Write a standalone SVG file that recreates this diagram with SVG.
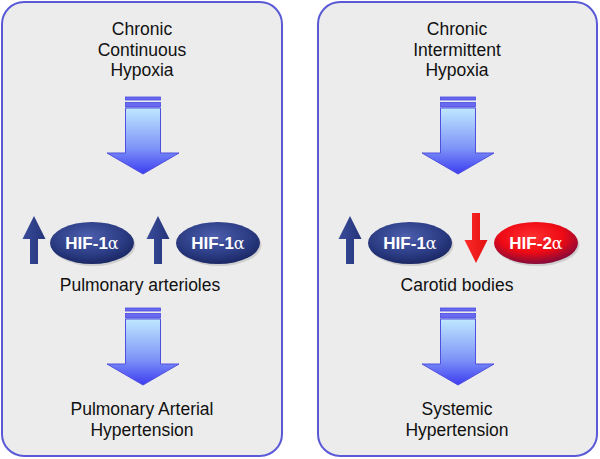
<svg xmlns="http://www.w3.org/2000/svg" width="600" height="459" viewBox="0 0 600 459">
<style>
.panel{fill:#ececec;stroke:#5a5ad8;stroke-width:2}
.t{font-family:"Liberation Sans",Arial,sans-serif;font-size:17.5px;fill:#111;text-anchor:middle}
.h{font-family:"Liberation Sans",Arial,sans-serif;font-size:17px;font-weight:bold;fill:#fff;text-anchor:middle}
.a{font-weight:normal;font-family:"DejaVu Serif","Liberation Serif",serif;font-size:16px}
.big{fill:url(#gBig);stroke:#5050e0;stroke-width:1}
.bar{fill:#6a6af0;stroke:#4a4ae0;stroke-width:0.8}
.up{fill:url(#gUp)}
.down{fill:url(#gRed)}
.sh{fill:#000;opacity:0.12}
</style>
<defs>
<linearGradient id="gBig" x1="0" y1="0" x2="0" y2="1">
<stop offset="0" stop-color="#bfe8ff"/>
<stop offset="0.6" stop-color="#7f95f8"/>
<stop offset="1" stop-color="#3d3cf0"/>
</linearGradient>
<linearGradient id="gUp" x1="0" y1="0" x2="1" y2="0">
<stop offset="0" stop-color="#3a4c9a"/>
<stop offset="1" stop-color="#24347a"/>
</linearGradient>
<linearGradient id="gRed" x1="0" y1="0" x2="1" y2="0">
<stop offset="0" stop-color="#ff2a2a"/>
<stop offset="1" stop-color="#e01010"/>
</linearGradient>
<radialGradient id="gBlue" cx="0.45" cy="0.35" r="0.7">
<stop offset="0" stop-color="#4d5fae"/>
<stop offset="0.6" stop-color="#2c3d85"/>
<stop offset="1" stop-color="#17235e"/>
</radialGradient>
<radialGradient id="gRedE" cx="0.45" cy="0.35" r="0.75">
<stop offset="0" stop-color="#ff3030"/>
<stop offset="0.5" stop-color="#ee0a14"/>
<stop offset="1" stop-color="#5e0a48"/>
</radialGradient>
<g id="bigArrow">
<rect class="bar" x="-17.5" y="0" width="35" height="3"/>
<rect class="bar" x="-17.5" y="5.5" width="35" height="4.5"/>
<path class="big" d="M-17.5,11 H17.5 V56 H36 L0,77 L-36,56 H-17.5 Z"/>
</g>
<path id="upArrow" d="M0,0 L11.5,23 H4 V48 H-4 V23 H-11.5 Z"/>
<path id="downArrow" d="M0,50 L11.5,27 H4 V0 H-4 V27 H-11.5 Z"/>
</defs>

<g id="left-panel">
<rect class="panel" x="2" y="2" width="280" height="454" rx="22"/>
</g>
<g id="right-panel">
<rect class="panel" x="318" y="2" width="279" height="454" rx="22"/>
</g>

<g id="ccHypoxia">
<text class="t" x="142" y="35">Chronic</text>
<text class="t" x="142" y="56">Continuous</text>
<text class="t" x="142" y="76">Hypoxia</text>
</g>
<g id="ciHypoxia">
<text class="t" x="457" y="35">Chronic</text>
<text class="t" x="457" y="56">Intermittent</text>
<text class="t" x="457" y="76">Hypoxia</text>
</g>

<g id="connectors">
<use href="#bigArrow" x="143" y="97"/>
<use href="#bigArrow" x="143" y="308"/>
<use href="#bigArrow" x="458" y="97"/>
<use href="#bigArrow" x="458" y="308"/>
</g>

<g id="up1"><use href="#upArrow" class="up" x="34" y="216"/></g>
<g id="hif1a-left">
<ellipse class="sh" cx="93.5" cy="245" rx="42" ry="21"/>
<ellipse cx="92" cy="243" rx="42" ry="21" fill="url(#gBlue)"/>
<text class="h" x="92" y="249">HIF-1<tspan class="a">α</tspan></text>
</g>
<g id="up2"><use href="#upArrow" class="up" x="158" y="216"/></g>
<g id="hif1a-left2">
<ellipse class="sh" cx="219.5" cy="245" rx="42" ry="21"/>
<ellipse cx="218" cy="243" rx="42" ry="21" fill="url(#gBlue)"/>
<text class="h" x="218" y="249">HIF-1<tspan class="a">α</tspan></text>
</g>
<g id="pulm-art"><text class="t" x="140" y="291">Pulmonary arterioles</text></g>

<g id="up3"><use href="#upArrow" class="up" x="350" y="216"/></g>
<g id="hif1a-right">
<ellipse class="sh" cx="411.5" cy="245" rx="42" ry="21"/>
<ellipse cx="410" cy="243" rx="42" ry="21" fill="url(#gBlue)"/>
<text class="h" x="410" y="249">HIF-1<tspan class="a">α</tspan></text>
</g>
<g id="down1"><use href="#downArrow" class="down" x="476" y="213"/></g>
<g id="hif2a">
<ellipse class="sh" cx="537.5" cy="245" rx="42" ry="21"/>
<ellipse cx="536" cy="243" rx="42" ry="21" fill="url(#gRedE)"/>
<text class="h" x="536" y="249">HIF-2<tspan class="a">α</tspan></text>
</g>
<g id="carotid"><text class="t" x="457" y="291">Carotid bodies</text></g>

<g id="pah">
<text class="t" x="142" y="415">Pulmonary Arterial</text>
<text class="t" x="142" y="436">Hypertension</text>
</g>
<g id="sh">
<text class="t" x="457" y="415">Systemic</text>
<text class="t" x="457" y="436">Hypertension</text>
</g>
</svg>
